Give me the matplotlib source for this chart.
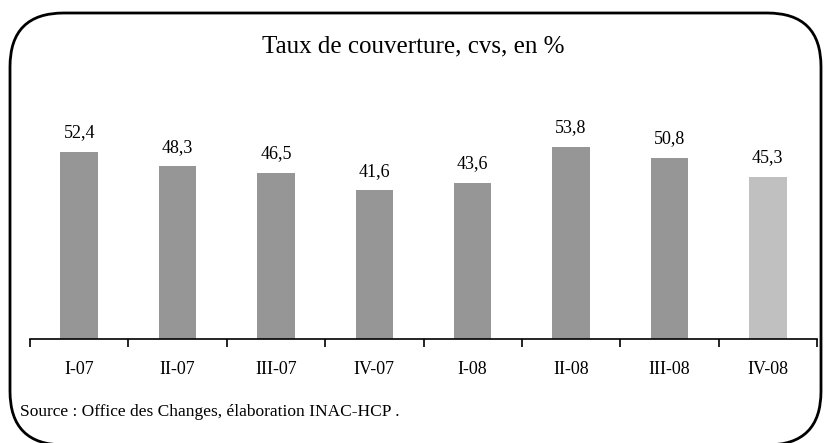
import matplotlib.pyplot as plt
from matplotlib.patches import FancyBboxPatch

# Taux de couverture, cvs, en %
quarters = ["I-07", "II-07", "III-07", "IV-07", "I-08", "II-08", "III-08", "IV-08"]
values = [52.4, 48.3, 46.5, 41.6, 43.6, 53.8, 50.8, 45.3]
colors = ["#969696"] * 7 + ["#c0c0c0"]

plt.rcParams["font.family"] = ["Liberation Serif", "DejaVu Serif"]

fig = plt.figure(figsize=(8.27, 4.43), dpi=100)

# rounded frame around the whole chart (bottom edge runs off the picture)
frame = FancyBboxPatch((10 / 827, -2 / 443), 811 / 827, 432 / 443,
                       boxstyle="round,pad=0,rounding_size=0.065",
                       transform=fig.transFigure, fill=False,
                       edgecolor="black", linewidth=2, mutation_aspect=827 / 443)
fig.patches.append(frame)

ax = fig.add_axes([30 / 827, (443 - 339) / 443, 787 / 827, 250 / 443])
x = range(len(quarters))
ax.bar(x, values, width=0.38, color=colors)
for i, v in zip(x, values):
    ax.text(i, v + 3.0, f"{v:.1f}".replace(".", ","), ha="center", va="bottom", fontsize=13)

ax.set_xlim(-0.5, len(quarters) - 0.5)
ax.set_ylim(0, 70)
ax.set_yticks([])
for side in ["top", "right", "left"]:
    ax.spines[side].set_visible(False)
ax.spines["bottom"].set_linewidth(1.2)

# ticks between categories, labels centered
ax.set_xticks([i - 0.5 for i in range(len(quarters) + 1)], minor=False)
ax.set_xticklabels([])
ax.tick_params(axis="x", direction="out", length=6, width=1.2)
ax.set_xticks(list(x), minor=True)
ax.set_xticklabels(quarters, minor=True, fontsize=13)
ax.tick_params(axis="x", which="minor", length=0, pad=16)

fig.text(413 / 827, 1 - 46 / 443, "Taux de couverture, cvs, en %", ha="center", va="center", fontsize=18)
fig.text(20 / 827, 1 - 412 / 443, "Source : Office des Changes, élaboration INAC-HCP .",
         ha="left", va="center", fontsize=12.5)

fig.savefig("out.png", dpi=100)
